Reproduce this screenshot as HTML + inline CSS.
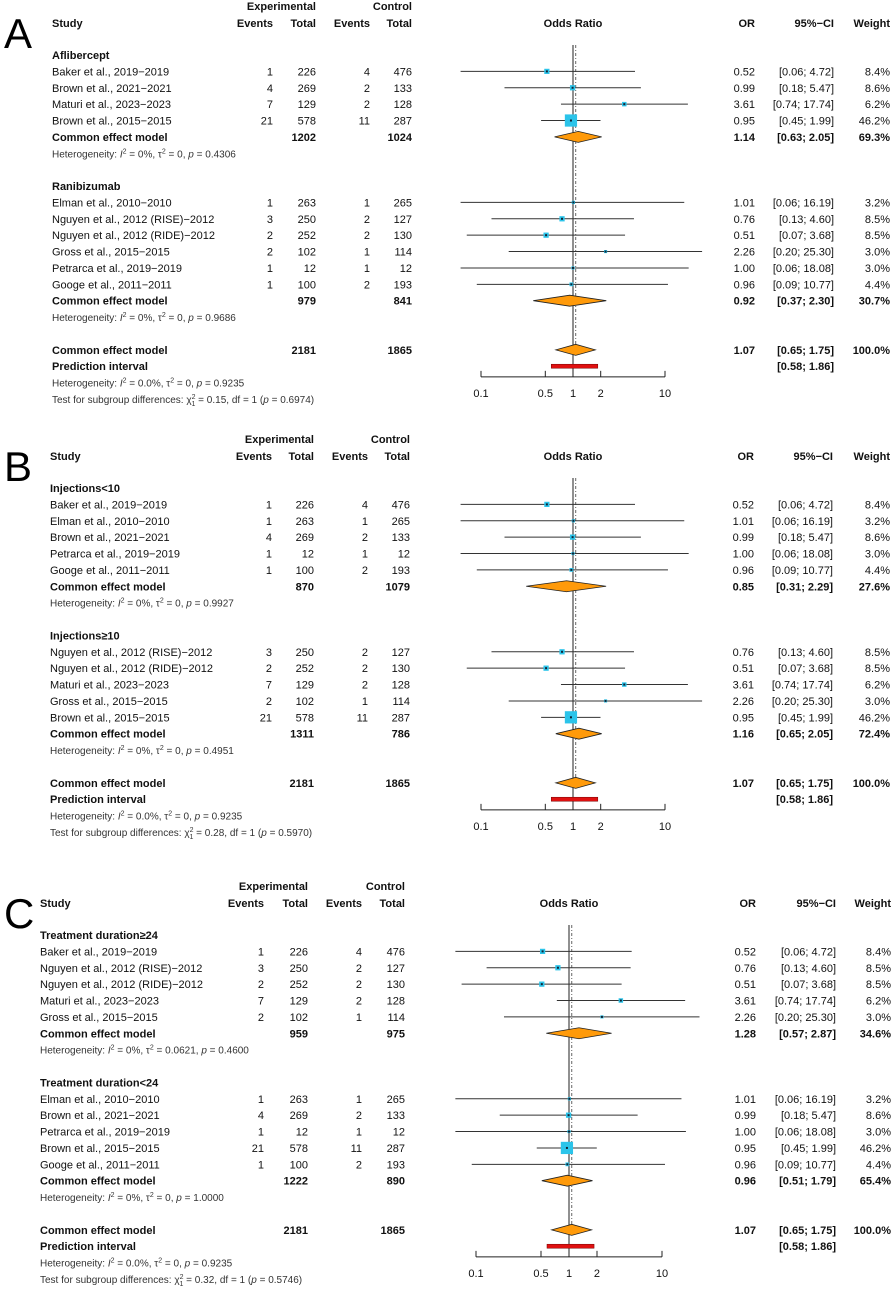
<!DOCTYPE html>
<html><head><meta charset="utf-8">
<style>
html,body{margin:0;padding:0;background:#fff;}
svg{display:block;font-family:"Liberation Sans",Arial,sans-serif;}
</style></head>
<body>
<svg id="chart" width="892" height="1294" viewBox="0 0 892 1294" xmlns="http://www.w3.org/2000/svg"></svg>
<script>
// ===== Panel A data =====
const groupNamesA = ["Aflibercept", "Ranibizumab"];
const studyNamesA = ["Baker et al., 2019\u22122019","Brown et al., 2021\u22122021","Maturi et al., 2023\u22122023","Brown et al., 2015\u22122015","Elman et al., 2010\u22122010","Nguyen et al., 2012 (RISE)\u22122012","Nguyen et al., 2012 (RIDE)\u22122012","Gross et al., 2015\u22122015","Petrarca et al., 2019\u22122019","Googe et al., 2011\u22122011"];
const groupOfA = [0,0,0,0,1,1,1,1,1,1];
const eventsExpA = [1,4,7,21,1,3,2,2,1,1];
const totalExpA = [226,269,129,578,263,250,252,102,12,100];
const eventsCtlA = [4,2,2,11,1,2,2,1,1,2];
const totalCtlA = [476,133,128,287,265,127,130,114,12,193];
const orA = [0.52,0.99,3.61,0.95,1.01,0.76,0.51,2.26,1.00,0.96];
const loA = [0.06,0.18,0.74,0.45,0.06,0.13,0.07,0.20,0.06,0.09];
const hiA = [4.72,5.47,17.74,1.99,16.19,4.60,3.68,25.30,18.08,10.77];
const weightA = [8.4,8.6,6.2,46.2,3.2,8.5,8.5,3.0,3.0,4.4];
const subOrA = [1.14,0.92], subLoA = [0.63,0.37], subHiA = [2.05,2.30], subWA = [69.3,30.7];
const subTotExpA = [1202,979], subTotCtlA = [1024,841];
const subTauA = ["0","0"], subPA = ["0.4306","0.9686"];
const chiA = "0.15", chiPA = "0.6974";

// ===== Panel B data =====
const groupNamesB = ["Injections<10", "Injections\u226510"];
const studyNamesB = ["Baker et al., 2019\u22122019","Elman et al., 2010\u22122010","Brown et al., 2021\u22122021","Petrarca et al., 2019\u22122019","Googe et al., 2011\u22122011","Nguyen et al., 2012 (RISE)\u22122012","Nguyen et al., 2012 (RIDE)\u22122012","Maturi et al., 2023\u22122023","Gross et al., 2015\u22122015","Brown et al., 2015\u22122015"];
const groupOfB = [0,0,0,0,0,1,1,1,1,1];
const eventsExpB = [1,1,4,1,1,3,2,7,2,21];
const totalExpB = [226,263,269,12,100,250,252,129,102,578];
const eventsCtlB = [4,1,2,1,2,2,2,2,1,11];
const totalCtlB = [476,265,133,12,193,127,130,128,114,287];
const orB = [0.52,1.01,0.99,1.00,0.96,0.76,0.51,3.61,2.26,0.95];
const loB = [0.06,0.06,0.18,0.06,0.09,0.13,0.07,0.74,0.20,0.45];
const hiB = [4.72,16.19,5.47,18.08,10.77,4.60,3.68,17.74,25.30,1.99];
const weightB = [8.4,3.2,8.6,3.0,4.4,8.5,8.5,6.2,3.0,46.2];
const subOrB = [0.85,1.16], subLoB = [0.31,0.65], subHiB = [2.29,2.05], subWB = [27.6,72.4];
const subTotExpB = [870,1311], subTotCtlB = [1079,786];
const subTauB = ["0","0"], subPB = ["0.9927","0.4951"];
const chiB = "0.28", chiPB = "0.5970";

// ===== Panel C data =====
const groupNamesC = ["Treatment duration\u226524", "Treatment duration<24"];
const studyNamesC = ["Baker et al., 2019\u22122019","Nguyen et al., 2012 (RISE)\u22122012","Nguyen et al., 2012 (RIDE)\u22122012","Maturi et al., 2023\u22122023","Gross et al., 2015\u22122015","Elman et al., 2010\u22122010","Brown et al., 2021\u22122021","Petrarca et al., 2019\u22122019","Brown et al., 2015\u22122015","Googe et al., 2011\u22122011"];
const groupOfC = [0,0,0,0,0,1,1,1,1,1];
const eventsExpC = [1,3,2,7,2,1,4,1,21,1];
const totalExpC = [226,250,252,129,102,263,269,12,578,100];
const eventsCtlC = [4,2,2,2,1,1,2,1,11,2];
const totalCtlC = [476,127,130,128,114,265,133,12,287,193];
const orC = [0.52,0.76,0.51,3.61,2.26,1.01,0.99,1.00,0.95,0.96];
const loC = [0.06,0.13,0.07,0.74,0.20,0.06,0.18,0.06,0.45,0.09];
const hiC = [4.72,4.60,3.68,17.74,25.30,16.19,5.47,18.08,1.99,10.77];
const weightC = [8.4,8.5,8.5,6.2,3.0,3.2,8.6,3.0,46.2,4.4];
const subOrC = [1.28,0.96], subLoC = [0.57,0.51], subHiC = [2.87,1.79], subWC = [34.6,65.4];
const subTotExpC = [959,1222], subTotCtlC = [975,890];
const subTauC = ["0.0621","0"], subPC = ["0.4600","1.0000"];
const chiC = "0.32", chiPC = "0.5746";

// ===== Overall (shared) =====
const overallOr = 1.07, overallLo = 0.65, overallHi = 1.75;
const predLo = 0.58, predHi = 1.86;
const overallTotExp = 2181, overallTotCtl = 1865;
const overallHetI2 = "0.0%", overallTau = "0", overallP = "0.9235";
const tickValues = [0.1, 0.5, 1, 2, 10];
const tickLabels = ["0.1", "0.5", "1", "2", "10"];

const NS = "http://www.w3.org/2000/svg";
const svg = document.getElementById("chart");
function mk(tag, attrs, parent){
  const e = document.createElementNS(NS, tag);
  for (const k in attrs) e.setAttribute(k, attrs[k]);
  (parent || svg).appendChild(e);
  return e;
}
function fmt(v){ return v.toFixed(2); }

function panel(P){
  const g = mk("g", {});
  
  
  const y0 = P.y0, step = 16.38;
  const xs = v => P.x1 + Math.log10(v) * P.dec;
  const C = P.cols;
  function txt(x, y, s, opt){
    const t = mk("text", {x: x, y: y + 4, "font-size": (opt&&opt.fs)||11, fill: (opt&&opt.fill)||"#111"}, g);
    if (opt && opt.anchor) t.setAttribute("text-anchor", opt.anchor);
    if (opt && opt.bold) t.setAttribute("font-weight", "bold");
    t.textContent = s;
    
    
    return t;
  }
  function het(y, i2, tau, p, name){
    const t = mk("text", {x: C.study, y: y + 4, "font-size": 10, fill: "#333"}, g);
    t.innerHTML = 'Heterogeneity: <tspan font-style="italic">I</tspan><tspan dy="-4" font-size="7">2</tspan><tspan dy="4"> = ' + i2 + ', \u03c4</tspan><tspan dy="-4" font-size="7">2</tspan><tspan dy="4"> = ' + tau + ', </tspan><tspan font-style="italic">p</tspan> = ' + p;
    
    
  }
  function diamond(y, o, lo, hi, name){
    const d = mk("polygon", {points: xs(lo)+","+y+" "+xs(o)+","+(y-5.5)+" "+xs(hi)+","+y+" "+xs(o)+","+(y+5.5), fill: "#ff9a0a", stroke: "#222", "stroke-width": 0.8}, g);
    
    
  }
  const L = mk("text", {x: 4, y: y0 + 48, "font-size": 42, fill: "#000"}, g);
  L.textContent = P.letter;
  
  
  txt(C.tot1, y0+6, "Experimental", {anchor:"end", bold:true, name:"experimental-header"});
  txt(C.tot2, y0+6, "Control", {anchor:"end", bold:true, name:"control-header"});
  txt(C.study, y0+23, "Study", {bold:true, name:"study-header"});
  txt(C.ev1, y0+23, "Events", {anchor:"end", bold:true, name:"events-header"});
  txt(C.tot1, y0+23, "Total", {anchor:"end", bold:true, name:"total-header"});
  txt(C.ev2, y0+23, "Events", {anchor:"end", bold:true, name:"events-header"});
  txt(C.tot2, y0+23, "Total", {anchor:"end", bold:true, name:"total-header"});
  txt(xs(1), y0+23, "Odds Ratio", {anchor:"middle", bold:true, name:"odds-ratio-header"});
  txt(C.or, y0+23, "OR", {anchor:"end", bold:true, name:"or-header"});
  txt(C.ci, y0+23, "95%\u2212CI", {anchor:"end", bold:true, name:"ci-header"});
  txt(C.w, y0+23, "Weight", {anchor:"end", bold:true, name:"weight-header"});

  let y = y0 + 55;
  const marks = [];
  for (let gi = 0; gi < P.groups.length; gi++){
    txt(C.study, y, P.groups[gi], {bold:true, name:"subgroup-label"});
    y += step;
    for (let i = 0; i < P.names.length; i++){
      if (P.groupOf[i] !== gi) continue;
      txt(C.study, y, P.names[i], {name:"study-name"});
      txt(C.ev1, y, String(P.e1[i]), {anchor:"end", name:"exp-events"});
      txt(C.tot1, y, String(P.n1[i]), {anchor:"end", name:"exp-total"});
      txt(C.ev2, y, String(P.e2[i]), {anchor:"end", name:"ctl-events"});
      txt(C.tot2, y, String(P.n2[i]), {anchor:"end", name:"ctl-total"});
      txt(C.or, y, fmt(P.or[i]), {anchor:"end", name:"or-value"});
      txt(C.ci, y, "[" + fmt(P.lo[i]) + "; " + fmt(P.hi[i]) + "]", {anchor:"end", name:"ci-value"});
      txt(C.w, y, P.w[i].toFixed(1) + "%", {anchor:"end", name:"weight-value"});
      marks.push({y: y, i: i});
      y += step;
    }
    txt(C.study, y, "Common effect model", {bold:true, name:"subgroup-common-effect-label"});
    txt(C.tot1, y, String(P.sTE[gi]), {anchor:"end", bold:true, name:"subgroup-exp-total"});
    txt(C.tot2, y, String(P.sTC[gi]), {anchor:"end", bold:true, name:"subgroup-ctl-total"});
    txt(C.or, y, fmt(P.sOr[gi]), {anchor:"end", bold:true, name:"subgroup-or"});
    txt(C.ci, y, "[" + fmt(P.sLo[gi]) + "; " + fmt(P.sHi[gi]) + "]", {anchor:"end", bold:true, name:"subgroup-ci"});
    txt(C.w, y, P.sW[gi].toFixed(1) + "%", {anchor:"end", bold:true, name:"subgroup-weight"});
    marks.push({y: y, d: gi});
    y += step;
    het(y, "0%", P.sTau[gi], P.sP[gi], "subgroup-heterogeneity");
    y += step * 2;
  }
  const yO = y;
  txt(C.study, yO, "Common effect model", {bold:true, name:"overall-common-effect-label"});
  txt(C.tot1, yO, String(overallTotExp), {anchor:"end", bold:true, name:"overall-exp-total"});
  txt(C.tot2, yO, String(overallTotCtl), {anchor:"end", bold:true, name:"overall-ctl-total"});
  txt(C.or, yO, fmt(overallOr), {anchor:"end", bold:true, name:"overall-or"});
  txt(C.ci, yO, "[" + fmt(overallLo) + "; " + fmt(overallHi) + "]", {anchor:"end", bold:true, name:"overall-ci"});
  txt(C.w, yO, "100.0%", {anchor:"end", bold:true, name:"overall-weight"});
  txt(C.study, yO+step, "Prediction interval", {bold:true, name:"prediction-interval-label"});
  txt(C.ci, yO+step, "[" + fmt(predLo) + "; " + fmt(predHi) + "]", {anchor:"end", bold:true, name:"prediction-interval-ci"});
  het(yO+step*2, overallHetI2, overallTau, overallP, "overall-heterogeneity");
  const t = mk("text", {x: C.study, y: yO+step*3+4, "font-size": 10, fill: "#333"}, g);
  t.innerHTML = 'Test for subgroup differences: \u03c7<tspan dy="-4" font-size="7">2</tspan><tspan dx="-4" dy="7" font-size="7">1</tspan><tspan dy="-3"> = ' + P.chi + ', df = 1 (</tspan><tspan font-style="italic">p</tspan> = ' + P.chiP + ')';
  
  

  const axY = yO + 27;
  const ref = mk("line", {x1: xs(1), x2: xs(1), y1: y0+45, y2: axY, stroke: "#222", "stroke-width": 1}, g);
  
  
  const dl = mk("line", {x1: xs(overallOr), x2: xs(overallOr), y1: y0+45, y2: yO+6, stroke: "#666", "stroke-width": 1, "stroke-dasharray": "3,2,1,2"}, g);
  
  

  marks.forEach(m => {
    if (m.d !== undefined){
      diamond(m.y, P.sOr[m.d], P.sLo[m.d], P.sHi[m.d], "subgroup-diamond");
      return;
    }
    const i = m.i;
    const ln = mk("line", {x1: xs(P.lo[i]), x2: xs(P.hi[i]), y1: m.y, y2: m.y, stroke: "#333", "stroke-width": 1}, g);
    
    
    const s = 1.8 * Math.sqrt(P.w[i]);
    const b = mk("rect", {x: xs(P.or[i]) - s/2, y: m.y - s/2, width: s, height: s, fill: "#2bc4ea"}, g);
    
    
    const c = mk("rect", {x: xs(P.or[i]) - 1, y: m.y - 1, width: 2, height: 2, fill: "#123"}, g);
    
    
  });
  diamond(yO, overallOr, overallLo, overallHi, "overall-diamond");
  const pi = mk("rect", {x: xs(predLo), y: yO+step-2, width: xs(predHi)-xs(predLo), height: 4, fill: "#e01010", stroke: "#700", "stroke-width": 0.5}, g);
  
  

  const ax = mk("line", {x1: xs(tickValues[0]), x2: xs(tickValues[tickValues.length-1]), y1: axY, y2: axY, stroke: "#222", "stroke-width": 1}, g);
  
  
  tickValues.forEach((v, k) => {
    const tk = mk("line", {x1: xs(v), x2: xs(v), y1: axY-6, y2: axY, stroke: "#222", "stroke-width": 1}, g);
    
    
    txt(xs(v), axY+16, tickLabels[k], {anchor:"middle", name:"x-tick-label"});
  });
}

panel({letter:"A", y0:0, x1:573, dec:92,
  cols:{study:52, ev1:273, tot1:316, ev2:370, tot2:412, or:755, ci:834, w:890},
  groups:groupNamesA, names:studyNamesA, groupOf:groupOfA, e1:eventsExpA, n1:totalExpA, e2:eventsCtlA, n2:totalCtlA,
  or:orA, lo:loA, hi:hiA, w:weightA, sOr:subOrA, sLo:subLoA, sHi:subHiA, sW:subWA, sTE:subTotExpA, sTC:subTotCtlA,
  sTau:subTauA, sP:subPA, chi:chiA, chiP:chiPA});
panel({letter:"B", y0:433, x1:573, dec:92,
  cols:{study:50, ev1:272, tot1:314, ev2:368, tot2:410, or:754, ci:833, w:890},
  groups:groupNamesB, names:studyNamesB, groupOf:groupOfB, e1:eventsExpB, n1:totalExpB, e2:eventsCtlB, n2:totalCtlB,
  or:orB, lo:loB, hi:hiB, w:weightB, sOr:subOrB, sLo:subLoB, sHi:subHiB, sW:subWB, sTE:subTotExpB, sTC:subTotCtlB,
  sTau:subTauB, sP:subPB, chi:chiB, chiP:chiPB});
panel({letter:"C", y0:880, x1:569, dec:93,
  cols:{study:40, ev1:264, tot1:308, ev2:362, tot2:405, or:756, ci:836, w:891},
  groups:groupNamesC, names:studyNamesC, groupOf:groupOfC, e1:eventsExpC, n1:totalExpC, e2:eventsCtlC, n2:totalCtlC,
  or:orC, lo:loC, hi:hiC, w:weightC, sOr:subOrC, sLo:subLoC, sHi:subHiC, sW:subWC, sTE:subTotExpC, sTC:subTotCtlC,
  sTau:subTauC, sP:subPC, chi:chiC, chiP:chiPC});
</script>
</body></html>
